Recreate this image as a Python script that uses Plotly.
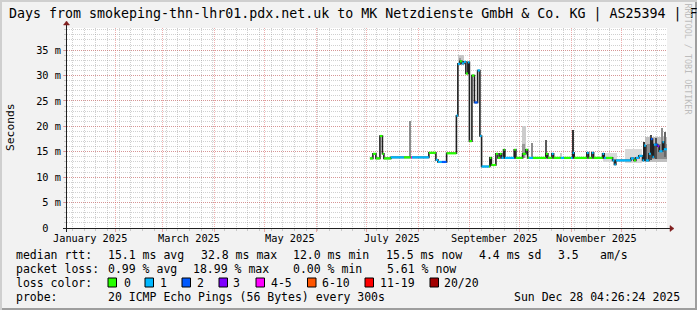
import plotly.graph_objects as go
import pandas as pd

# ---------------- data ----------------
median_time = [
    "2025-07-03 04:00", "2025-07-04 23:00", "2025-07-06 18:00", "2025-07-09 04:00", "2025-07-10 16:00",
    "2025-07-11 13:00", "2025-07-15 18:00", "2025-07-23 13:00", "2025-07-27 17:00", "2025-07-28 08:00",
    "2025-08-07 12:00", "2025-08-11 17:00", "2025-08-12 22:00", "2025-08-15 07:00", "2025-08-18 03:00",
    "2025-08-24 00:00", "2025-08-24 21:00", "2025-08-26 02:00", "2025-08-27 07:00", "2025-08-28 12:00",
    "2025-08-29 16:00", "2025-08-30 21:00", "2025-08-31 19:00", "2025-09-02 07:00", "2025-09-03 19:00",
    "2025-09-05 17:00", "2025-09-07 02:00", "2025-09-08 02:00", "2025-09-12 11:00", "2025-09-13 01:00",
    "2025-09-13 23:00", "2025-09-16 16:00", "2025-09-17 21:00", "2025-09-19 01:00", "2025-09-20 02:00",
    "2025-09-21 06:00", "2025-09-22 01:00", "2025-09-27 15:00", "2025-09-28 15:00", "2025-10-02 16:00",
    "2025-10-04 15:00", "2025-10-05 16:00", "2025-10-06 10:00", "2025-10-08 20:00", "2025-10-16 15:00",
    "2025-10-17 19:00", "2025-10-20 05:00", "2025-10-21 06:00", "2025-10-25 14:00", "2025-10-27 10:00",
    "2025-10-31 14:00", "2025-11-01 15:00", "2025-11-02 14:00", "2025-11-10 04:00", "2025-11-11 05:00",
    "2025-11-13 04:00", "2025-11-14 05:00", "2025-11-19 14:00", "2025-11-20 13:00", "2025-11-21 14:00",
    "2025-11-25 14:00", "2025-11-26 16:00", "2025-11-27 13:00", "2025-12-06 13:00", "2025-12-08 08:00",
    "2025-12-09 13:00", "2025-12-11 08:00", "2025-12-13 13:00", "2025-12-14 12:00", "2025-12-15 13:00",
    "2025-12-17 08:00", "2025-12-18 13:00", "2025-12-19 13:00", "2025-12-20 08:00", "2025-12-21 12:00",
    "2025-12-22 13:00", "2025-12-23 12:00", "2025-12-25 13:00", "2025-12-26 07:00",
]
median_ms = [
    13.7, 14.6, 13.7, 18.1, 14.6,
    13.7, 13.9, 13.9, 13.9, 13.9,
    14.8, 13.4, 13.0, 13.0, 14.7,
    22.1, 32.3, 32.8, 32.4, 32.7,
    30.4, 32.6, 17.1, 30.0, 24.7,
    31.0, 18.1, 12.1, 12.1, 13.8,
    12.4, 14.6, 13.8, 14.6, 13.8,
    15.4, 13.8, 15.4, 13.8, 14.6,
    15.4, 13.8, 13.8, 13.8, 14.6,
    13.8, 14.6, 13.8, 13.8, 13.8,
    13.8, 14.8, 13.8, 14.8, 13.8,
    14.8, 13.8, 14.6, 13.8, 13.8,
    13.3, 12.5, 13.3, 13.7, 13.3,
    13.8, 14.2, 13.3, 16.2, 13.3,
    14.6, 17.5, 14.0, 16.4, 16.4,
    16.1, 15.1, 16.9, 15.5,
]
# loss bucket index: 0="0", 1="1", 2="2", 3="3", 4="4-5", 5="6-10", 6="11-19", 7="20/20"
median_loss_bucket = [
    0, 0, 0, 0, 0,
    0, 1, 0, 4, 1,
    0, 1, 1, 2, 0,
    1, 1, 0, 1, 1,
    0, 1, 0, 0, 2,
    1, 1, 1, 0, 0,
    0, 0, 0, 0, 1,
    0, 1, 0, 0, 0,
    0, 0, 1, 0, 0,
    0, 1, 0, 1, 0,
    1, 1, 0, 1, 0,
    1, 0, 1, 1, 0,
    1, 1, 1, 1, 0,
    1, 1, 1, 1, 1,
    1, 2, 1, 1, 2,
    3, 1, 1, 1,
]
last_time = "2025-12-28 04:26:24"
range_start = "2025-01-02 16:00"

# smoke (spread of the 20 pings)
smoke_start = [
    "2025-07-26 20:00", "2025-08-25 00:00", "2025-08-25 12:00", "2025-10-02 00:00", "2025-10-02 12:00",
    "2025-10-08 06:00", "2025-10-16 08:00", "2025-10-25 00:00", "2025-11-01 12:00", "2025-11-20 00:00",
    "2025-12-03 00:00", "2025-12-14 00:00", "2025-12-15 00:00", "2025-12-16 00:00", "2025-12-18 00:00",
    "2025-12-21 00:00", "2025-12-25 00:00", "2025-12-26 12:00",
]
smoke_end = [
    "2025-07-27 12:00", "2025-08-28 12:00", "2025-08-27 00:00", "2025-10-04 12:00", "2025-10-04 00:00",
    "2025-10-08 20:00", "2025-10-16 23:00", "2025-10-26 12:00", "2025-11-02 12:00", "2025-11-28 00:00",
    "2025-12-13 12:00", "2025-12-15 00:00", "2025-12-28 04:00", "2025-12-28 04:00", "2025-12-19 00:00",
    "2025-12-22 00:00", "2025-12-26 00:00", "2025-12-27 12:00",
]
smoke_low = [
    13.9, 32.0, 32.3, 13.8, 13.8,
    13.8, 13.8, 13.8, 13.8, 13.0,
    12.8, 13.3, 13.0, 13.5, 13.3,
    13.6, 13.5, 14.0,
]
smoke_high = [
    21.1, 34.0, 33.5, 20.0, 16.5,
    16.8, 17.4, 14.8, 19.3, 14.8,
    15.5, 17.0, 18.0, 16.5, 18.4,
    17.8, 19.7, 18.8,
]
smoke_density = [
    0.45, 0.22, 0.4, 0.2, 0.4,
    0.45, 0.65, 0.2, 0.8, 0.15,
    0.15, 0.8, 0.25, 0.45, 0.7,
    0.7, 0.45, 0.6,
]

loss_labels = ["0", "1", "2", "3", "4-5", "6-10", "11-19", "20/20"]
loss_colors = ["#26ff00", "#00b8ff", "#0059ff", "#7e00ff", "#ff00ff", "#ff5500", "#ff0000", "#a10000"]

y_tick_values = [0, 5, 10, 15, 20, 25, 30, 35]
y_tick_labels = ["0\u00a0\u00a0", "5 m", "10 m", "15 m", "20 m", "25 m", "30 m", "35 m"]
y_top = 39.36

month_labels = ["January 2025", "March 2025", "May 2025", "July 2025", "September 2025", "November 2025"]
month_label_at = ["2025-01-16 12:00", "2025-03-16 12:00", "2025-05-16 12:00",
                  "2025-07-16 12:00", "2025-09-16 00:00", "2025-11-16 00:00"]

title_text = "Days from smokeping-thn-lhr01.pdx.net.uk to MK Netzdienste GmbH & Co. KG | AS25394 | F"
rtt_texts = ["median rtt:", "15.1 ms avg", "32.8 ms max", "12.0 ms min", "15.5 ms now", "4.4 ms sd", "3.5", "am/s"]
loss_texts = ["packet loss:", "0.99 % avg", "18.99 % max", "0.00 % min", "5.61 % now"]
probe_texts = ["probe:", "20 ICMP Echo Pings (56 Bytes) every 300s"]
stamp_text = "Sun Dec 28 04:26:24 2025"

# ---------------- layout constants (pixels) ----------------
FW, FH = 697, 310
L, T, PW, PH = 67, 28, 600, 200
FONT = "DejaVu Sans Mono"
BG = "#f2f2f2"
GRID = "rgba(143,143,143,0.42)"
MGRID = "rgba(222,79,79,0.45)"
ARROW = "#801f1f"
AXIS = "#1f1f1f"


def px(x):
    return (x - L) / PW


def py(y):
    return (T + PH - y) / PH


fig = go.Figure()

# smoke
s0 = pd.to_datetime(smoke_start)
s1 = pd.to_datetime(smoke_end)
mids = s0 + (s1 - s0) / 2
widths = [(b - a).total_seconds() * 1000 for a, b in zip(s0, s1)]
cols = []
for d in smoke_density:
    g = int(round(255 * (1 - d)))
    cols.append(f"rgb({g},{g},{g})")
fig.add_trace(go.Bar(
    x=mids, y=[h - l for h, l in zip(smoke_high, smoke_low)], base=smoke_low, width=widths,
    marker=dict(color=cols, line=dict(width=0)), hoverinfo="skip",
))

# median step line (dark transitions)
fig.add_trace(go.Scatter(
    x=median_time + [last_time], y=median_ms + [median_ms[-1]],
    mode="lines", line=dict(color="#202020", width=1.6, shape="hv"), hoverinfo="skip",
))

# coloured median by loss
ends = median_time[1:] + [last_time]
for b, col in enumerate(loss_colors):
    xs, ys = [], []
    for t0, t1, v, lb in zip(median_time, ends, median_ms, median_loss_bucket):
        if lb == b:
            xs += [t0, t1, None]
            ys += [v, v, None]
    if xs:
        fig.add_trace(go.Scatter(x=xs, y=ys, mode="lines",
                                 line=dict(color=col, width=2.2), hoverinfo="skip"))

shapes = []
annotations = []

# border shading
shapes.append(dict(type="rect", xref="paper", yref="paper", x0=px(0), x1=px(FW), y0=py(0), y1=py(2),
                   fillcolor="#cfcfcf", line=dict(width=0), layer="below"))
shapes.append(dict(type="rect", xref="paper", yref="paper", x0=px(0), x1=px(2), y0=py(0), y1=py(FH),
                   fillcolor="#cfcfcf", line=dict(width=0), layer="below"))
shapes.append(dict(type="rect", xref="paper", yref="paper", x0=px(2), x1=px(FW), y0=py(FH - 2), y1=py(FH),
                   fillcolor="#9e9e9e", line=dict(width=0), layer="below"))
shapes.append(dict(type="rect", xref="paper", yref="paper", x0=px(FW - 2), x1=px(FW), y0=py(2), y1=py(FH),
                   fillcolor="#9e9e9e", line=dict(width=0), layer="below"))

# axes + arrows
ax_x = L - 0.5
ax_y = T + PH + 0.5
shapes.append(dict(type="line", xref="paper", yref="paper", x0=px(L - 4), x1=px(L + PW + 4),
                   y0=py(ax_y), y1=py(ax_y), line=dict(color=AXIS, width=1)))
shapes.append(dict(type="line", xref="paper", yref="paper", x0=px(ax_x), x1=px(ax_x),
                   y0=py(T + PH + 4), y1=py(T - 4), line=dict(color=AXIS, width=1)))
shapes.append(dict(type="path", xref="paper", yref="paper",
                   path=f"M {px(L+PW+3)},{py(ax_y-3)} L {px(L+PW+3)},{py(ax_y+3)} L {px(L+PW+7)},{py(ax_y)} Z",
                   fillcolor=ARROW, line=dict(color=ARROW, width=0.5)))
shapes.append(dict(type="path", xref="paper", yref="paper",
                   path=f"M {px(ax_x-3)},{py(T-3)} L {px(ax_x+3)},{py(T-3)} L {px(ax_x)},{py(T-7)} Z",
                   fillcolor=ARROW, line=dict(color=ARROW, width=0.5)))

# month labels
for lab, at in zip(month_labels, month_label_at):
    annotations.append(dict(x=at, xref="x", y=py(238), yref="paper", text=lab, showarrow=False,
                            xanchor="center", yanchor="middle", font=dict(family=FONT, size=10.3, color="black")))

# title
annotations.append(dict(x=px(7), y=py(14), xref="paper", yref="paper", text=title_text, showarrow=False,
                        xanchor="left", yanchor="middle", font=dict(family=FONT, size=13.3, color="black")))
# y title
annotations.append(dict(x=px(10.5), y=py(127.5), xref="paper", yref="paper", text="Seconds", showarrow=False,
                        textangle=-90, xanchor="center", yanchor="middle",
                        font=dict(family=FONT, size=11.3, color="black")))
# watermark
annotations.append(dict(x=px(687), y=py(59.5), xref="paper", yref="paper", text="RRDTOOL / TOBI OETIKER",
                        showarrow=False, textangle=90, xanchor="center", yanchor="middle",
                        font=dict(family=FONT, size=8.4, color="#bdbdbd")))

LEG = 11.5


def txt(s, x, y, anchor="left"):
    annotations.append(dict(x=px(x), y=py(y), xref="paper", yref="paper", text=s, showarrow=False,
                            xanchor=anchor, yanchor="middle", borderpad=0,
                            font=dict(family=FONT, size=LEG, color="black")))


row_y = [254.5, 268.5, 282.5, 296.5]
for s, x in zip(rtt_texts, [15, 107, 200, 292, 385, 478, 557, 599]):
    txt(s, x, row_y[0])
for s, x in zip(loss_texts, [15, 107, 192, 292, 386]):
    txt(s, x, row_y[1])
txt("loss color:", 15, row_y[2])
sw_x = [108, 145, 182, 219, 256, 307.5, 365, 430]
lab_x = [122.5, 159, 196, 232, 270, 321, 379, 443]
for lab, col, sx, lx in zip(loss_labels, loss_colors, sw_x, lab_x):
    shapes.append(dict(type="rect", xref="paper", yref="paper", x0=px(sx), x1=px(sx + 8.5),
                       y0=py(row_y[2] + 4.5), y1=py(row_y[2] - 4.5), fillcolor=col,
                       line=dict(color="black", width=1)))
    txt(lab, lx, row_y[2])
txt(probe_texts[0], 15, row_y[3])
txt(probe_texts[1], 107, row_y[3])
txt(stamp_text, 681, row_y[3], anchor="right")

fig.update_layout(
    width=FW, height=FH,
    margin=dict(l=L, r=FW - L - PW, t=T, b=FH - T - PH, pad=0),
    paper_bgcolor=BG, plot_bgcolor="white",
    showlegend=False, hovermode=False, barmode="overlay", bargap=0,
    shapes=shapes, annotations=annotations,
    xaxis=dict(
        type="date", range=[range_start, last_time], showline=False, zeroline=False,
        dtick="M1", tick0="2025-01-01", showticklabels=False,
        showgrid=True, gridcolor=MGRID, griddash="1px,1px", gridwidth=1,
        ticks="outside", ticklen=3, tickcolor=MGRID,
        minor=dict(dtick=7 * 86400000, tick0="2025-01-06", showgrid=True, gridcolor=GRID,
                   griddash="1px,1px", gridwidth=1, ticks="outside", ticklen=2, tickcolor=GRID),
        fixedrange=True,
    ),
    yaxis=dict(
        range=[0, y_top], showline=False, zeroline=False,
        tickvals=y_tick_values, ticktext=y_tick_labels,
        tickfont=dict(family=FONT, size=10.3, color="black"),
        showgrid=True, gridcolor=MGRID, griddash="1px,1px", gridwidth=1,
        ticks="outside", ticklen=3, tickcolor=MGRID,
        minor=dict(dtick=1, showgrid=True, gridcolor=GRID, griddash="1px,1px", gridwidth=1,
                   ticks="outside", ticklen=2, tickcolor=GRID),
        fixedrange=True,
    ),
)

fig.write_html("out.html")
